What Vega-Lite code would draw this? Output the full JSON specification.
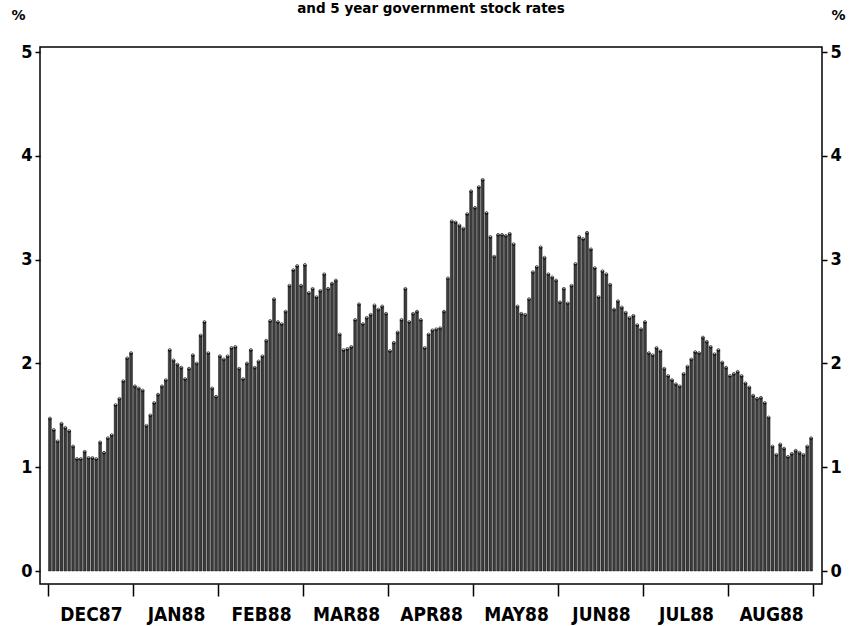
{
  "$schema": "https://vega.github.io/schema/vega-lite/v6.json",
  "autosize": {"type": "none"},
  "padding": {"left": 40, "top": 47, "right": 38, "bottom": 42},
  "width": 782,
  "height": 537,
  "background": "white",
  "title": {"text": "and 5 year government stock rates", "anchor": "middle", "fontSize": 13.5, "font": "DejaVu Sans", "fontWeight": "bold", "baseline": "top", "offset": 6, "dy": 13, "color": "black"},
  "config": {"view": {"stroke": "black", "strokeWidth": 1.5}},
  "data": {"values": [
    {"obs":1,"month":"DEC87","v":1.47},{"obs":2,"month":"DEC87","v":1.36},{"obs":3,"month":"DEC87","v":1.25},{"obs":4,"month":"DEC87","v":1.42},{"obs":5,"month":"DEC87","v":1.38},{"obs":6,"month":"DEC87","v":1.35},{"obs":7,"month":"DEC87","v":1.20},{"obs":8,"month":"DEC87","v":1.08},{"obs":9,"month":"DEC87","v":1.08},{"obs":10,"month":"DEC87","v":1.15},{"obs":11,"month":"DEC87","v":1.09},{"obs":12,"month":"DEC87","v":1.09},{"obs":13,"month":"DEC87","v":1.08},{"obs":14,"month":"DEC87","v":1.24},{"obs":15,"month":"DEC87","v":1.14},{"obs":16,"month":"DEC87","v":1.28},{"obs":17,"month":"DEC87","v":1.31},{"obs":18,"month":"DEC87","v":1.60},{"obs":19,"month":"DEC87","v":1.66},{"obs":20,"month":"DEC87","v":1.83},{"obs":21,"month":"DEC87","v":2.05},{"obs":22,"month":"DEC87","v":2.10},
    {"obs":23,"month":"JAN88","v":1.78},{"obs":24,"month":"JAN88","v":1.76},{"obs":25,"month":"JAN88","v":1.74},{"obs":26,"month":"JAN88","v":1.40},{"obs":27,"month":"JAN88","v":1.50},{"obs":28,"month":"JAN88","v":1.62},{"obs":29,"month":"JAN88","v":1.70},{"obs":30,"month":"JAN88","v":1.78},{"obs":31,"month":"JAN88","v":1.84},{"obs":32,"month":"JAN88","v":2.13},{"obs":33,"month":"JAN88","v":2.03},{"obs":34,"month":"JAN88","v":1.99},{"obs":35,"month":"JAN88","v":1.96},{"obs":36,"month":"JAN88","v":1.85},{"obs":37,"month":"JAN88","v":1.95},{"obs":38,"month":"JAN88","v":2.08},{"obs":39,"month":"JAN88","v":2.00},{"obs":40,"month":"JAN88","v":2.27},{"obs":41,"month":"JAN88","v":2.40},{"obs":42,"month":"JAN88","v":2.10},{"obs":43,"month":"JAN88","v":1.76},{"obs":44,"month":"JAN88","v":1.68},
    {"obs":45,"month":"FEB88","v":2.07},{"obs":46,"month":"FEB88","v":2.04},{"obs":47,"month":"FEB88","v":2.07},{"obs":48,"month":"FEB88","v":2.15},{"obs":49,"month":"FEB88","v":2.16},{"obs":50,"month":"FEB88","v":1.95},{"obs":51,"month":"FEB88","v":1.85},{"obs":52,"month":"FEB88","v":2.00},{"obs":53,"month":"FEB88","v":2.13},{"obs":54,"month":"FEB88","v":1.96},{"obs":55,"month":"FEB88","v":2.02},{"obs":56,"month":"FEB88","v":2.07},{"obs":57,"month":"FEB88","v":2.22},{"obs":58,"month":"FEB88","v":2.41},{"obs":59,"month":"FEB88","v":2.62},{"obs":60,"month":"FEB88","v":2.40},{"obs":61,"month":"FEB88","v":2.38},{"obs":62,"month":"FEB88","v":2.50},{"obs":63,"month":"FEB88","v":2.75},{"obs":64,"month":"FEB88","v":2.90},{"obs":65,"month":"FEB88","v":2.94},{"obs":66,"month":"FEB88","v":2.75},
    {"obs":67,"month":"MAR88","v":2.95},{"obs":68,"month":"MAR88","v":2.68},{"obs":69,"month":"MAR88","v":2.72},{"obs":70,"month":"MAR88","v":2.64},{"obs":71,"month":"MAR88","v":2.70},{"obs":72,"month":"MAR88","v":2.86},{"obs":73,"month":"MAR88","v":2.72},{"obs":74,"month":"MAR88","v":2.77},{"obs":75,"month":"MAR88","v":2.80},{"obs":76,"month":"MAR88","v":2.28},{"obs":77,"month":"MAR88","v":2.13},{"obs":78,"month":"MAR88","v":2.14},{"obs":79,"month":"MAR88","v":2.16},{"obs":80,"month":"MAR88","v":2.42},{"obs":81,"month":"MAR88","v":2.57},{"obs":82,"month":"MAR88","v":2.38},{"obs":83,"month":"MAR88","v":2.44},{"obs":84,"month":"MAR88","v":2.47},{"obs":85,"month":"MAR88","v":2.56},{"obs":86,"month":"MAR88","v":2.52},{"obs":87,"month":"MAR88","v":2.55},{"obs":88,"month":"MAR88","v":2.48},
    {"obs":89,"month":"APR88","v":2.12},{"obs":90,"month":"APR88","v":2.20},{"obs":91,"month":"APR88","v":2.30},{"obs":92,"month":"APR88","v":2.42},{"obs":93,"month":"APR88","v":2.72},{"obs":94,"month":"APR88","v":2.40},{"obs":95,"month":"APR88","v":2.48},{"obs":96,"month":"APR88","v":2.50},{"obs":97,"month":"APR88","v":2.42},{"obs":98,"month":"APR88","v":2.15},{"obs":99,"month":"APR88","v":2.28},{"obs":100,"month":"APR88","v":2.32},{"obs":101,"month":"APR88","v":2.33},{"obs":102,"month":"APR88","v":2.34},{"obs":103,"month":"APR88","v":2.50},{"obs":104,"month":"APR88","v":2.82},{"obs":105,"month":"APR88","v":3.37},{"obs":106,"month":"APR88","v":3.36},{"obs":107,"month":"APR88","v":3.33},{"obs":108,"month":"APR88","v":3.30},{"obs":109,"month":"APR88","v":3.44},{"obs":110,"month":"APR88","v":3.66},
    {"obs":111,"month":"MAY88","v":3.50},{"obs":112,"month":"MAY88","v":3.70},{"obs":113,"month":"MAY88","v":3.77},{"obs":114,"month":"MAY88","v":3.45},{"obs":115,"month":"MAY88","v":3.22},{"obs":116,"month":"MAY88","v":3.03},{"obs":117,"month":"MAY88","v":3.24},{"obs":118,"month":"MAY88","v":3.24},{"obs":119,"month":"MAY88","v":3.23},{"obs":120,"month":"MAY88","v":3.25},{"obs":121,"month":"MAY88","v":3.15},{"obs":122,"month":"MAY88","v":2.55},{"obs":123,"month":"MAY88","v":2.48},{"obs":124,"month":"MAY88","v":2.47},{"obs":125,"month":"MAY88","v":2.62},{"obs":126,"month":"MAY88","v":2.88},{"obs":127,"month":"MAY88","v":2.93},{"obs":128,"month":"MAY88","v":3.12},{"obs":129,"month":"MAY88","v":3.02},{"obs":130,"month":"MAY88","v":2.86},{"obs":131,"month":"MAY88","v":2.83},{"obs":132,"month":"MAY88","v":2.80},
    {"obs":133,"month":"JUN88","v":2.59},{"obs":134,"month":"JUN88","v":2.72},{"obs":135,"month":"JUN88","v":2.58},{"obs":136,"month":"JUN88","v":2.75},{"obs":137,"month":"JUN88","v":2.96},{"obs":138,"month":"JUN88","v":3.22},{"obs":139,"month":"JUN88","v":3.20},{"obs":140,"month":"JUN88","v":3.26},{"obs":141,"month":"JUN88","v":3.10},{"obs":142,"month":"JUN88","v":2.92},{"obs":143,"month":"JUN88","v":2.64},{"obs":144,"month":"JUN88","v":2.89},{"obs":145,"month":"JUN88","v":2.86},{"obs":146,"month":"JUN88","v":2.76},{"obs":147,"month":"JUN88","v":2.52},{"obs":148,"month":"JUN88","v":2.60},{"obs":149,"month":"JUN88","v":2.54},{"obs":150,"month":"JUN88","v":2.49},{"obs":151,"month":"JUN88","v":2.44},{"obs":152,"month":"JUN88","v":2.46},{"obs":153,"month":"JUN88","v":2.37},{"obs":154,"month":"JUN88","v":2.33},
    {"obs":155,"month":"JUL88","v":2.40},{"obs":156,"month":"JUL88","v":2.10},{"obs":157,"month":"JUL88","v":2.08},{"obs":158,"month":"JUL88","v":2.15},{"obs":159,"month":"JUL88","v":2.12},{"obs":160,"month":"JUL88","v":1.95},{"obs":161,"month":"JUL88","v":1.88},{"obs":162,"month":"JUL88","v":1.84},{"obs":163,"month":"JUL88","v":1.80},{"obs":164,"month":"JUL88","v":1.78},{"obs":165,"month":"JUL88","v":1.90},{"obs":166,"month":"JUL88","v":1.97},{"obs":167,"month":"JUL88","v":2.04},{"obs":168,"month":"JUL88","v":2.11},{"obs":169,"month":"JUL88","v":2.10},{"obs":170,"month":"JUL88","v":2.25},{"obs":171,"month":"JUL88","v":2.21},{"obs":172,"month":"JUL88","v":2.16},{"obs":173,"month":"JUL88","v":2.09},{"obs":174,"month":"JUL88","v":2.13},{"obs":175,"month":"JUL88","v":2.01},{"obs":176,"month":"JUL88","v":1.96},
    {"obs":177,"month":"AUG88","v":1.88},{"obs":178,"month":"AUG88","v":1.90},{"obs":179,"month":"AUG88","v":1.92},{"obs":180,"month":"AUG88","v":1.88},{"obs":181,"month":"AUG88","v":1.81},{"obs":182,"month":"AUG88","v":1.77},{"obs":183,"month":"AUG88","v":1.69},{"obs":184,"month":"AUG88","v":1.66},{"obs":185,"month":"AUG88","v":1.67},{"obs":186,"month":"AUG88","v":1.62},{"obs":187,"month":"AUG88","v":1.48},{"obs":188,"month":"AUG88","v":1.20},{"obs":189,"month":"AUG88","v":1.12},{"obs":190,"month":"AUG88","v":1.22},{"obs":191,"month":"AUG88","v":1.18},{"obs":192,"month":"AUG88","v":1.10},{"obs":193,"month":"AUG88","v":1.13},{"obs":194,"month":"AUG88","v":1.16},{"obs":195,"month":"AUG88","v":1.14},{"obs":196,"month":"AUG88","v":1.12},{"obs":197,"month":"AUG88","v":1.20},{"obs":198,"month":"AUG88","v":1.28}
  ]},
  "resolve": {"axis": {"y": "independent"}},
  "layer": [
    {
      "mark": {"type": "bar", "size": 2.9, "color": "#3c3c3c", "stroke": "black", "strokeWidth": 0.4},
      "encoding": {
        "x": {"field": "obs", "type": "quantitative",
          "scale": {"domain": [-0.27, 199.52], "nice": false, "zero": false},
          "axis": {"values": [0.5, 22.5, 44.5, 66.5, 88.5, 110.5, 132.5, 154.5, 176.5, 198.5],
            "title": null, "grid": false, "domain": false, "tickSize": 12, "tickWidth": 1.5, "tickColor": "black",
            "labelExpr": "['DEC87','JAN88','FEB88','MAR88','APR88','MAY88','JUN88','JUL88','AUG88',''][floor(datum.value/22)]",
            "labelOffset": 43, "labelFlush": false, "labelOverlap": false, "labelPadding": 9,
            "labelFont": "DejaVu Sans Condensed", "labelFontSize": 19, "labelFontWeight": "bold", "labelColor": "black"}},
        "y": {"field": "v", "type": "quantitative",
          "scale": {"domain": [-0.125, 5.05], "nice": false, "zero": false},
          "axis": {"orient": "left", "values": [0, 1, 2, 3, 4, 5], "grid": false, "domain": false,
            "tickSize": 5, "tickWidth": 1.5, "tickColor": "black", "labelPadding": 3,
            "labelFont": "DejaVu Sans Condensed", "labelFontSize": 18, "labelFontWeight": "bold", "labelColor": "black",
            "title": "%", "titleAngle": 0, "titleX": -22, "titleY": -32, "titleAlign": "center", "titleBaseline": "middle",
            "titleFont": "DejaVu Sans", "titleFontSize": 14, "titleFontWeight": "bold", "titleColor": "black"}}
      }
    },
    {
      "mark": {"type": "point", "shape": "circle", "size": 8, "filled": false, "stroke": "black", "strokeWidth": 1},
      "encoding": {
        "x": {"field": "obs", "type": "quantitative"},
        "y": {"field": "v", "type": "quantitative",
          "axis": {"orient": "right", "values": [0, 1, 2, 3, 4, 5], "grid": false, "domain": false,
            "tickSize": 5, "tickWidth": 1.5, "tickColor": "black", "labelPadding": 3,
            "labelFont": "DejaVu Sans Condensed", "labelFontSize": 18, "labelFontWeight": "bold", "labelColor": "black",
            "title": "%", "titleAngle": 0, "titleX": 16, "titleY": -32, "titleAlign": "center", "titleBaseline": "middle",
            "titleFont": "DejaVu Sans", "titleFontSize": 14, "titleFontWeight": "bold", "titleColor": "black"}}
      }
    }
  ]
}
